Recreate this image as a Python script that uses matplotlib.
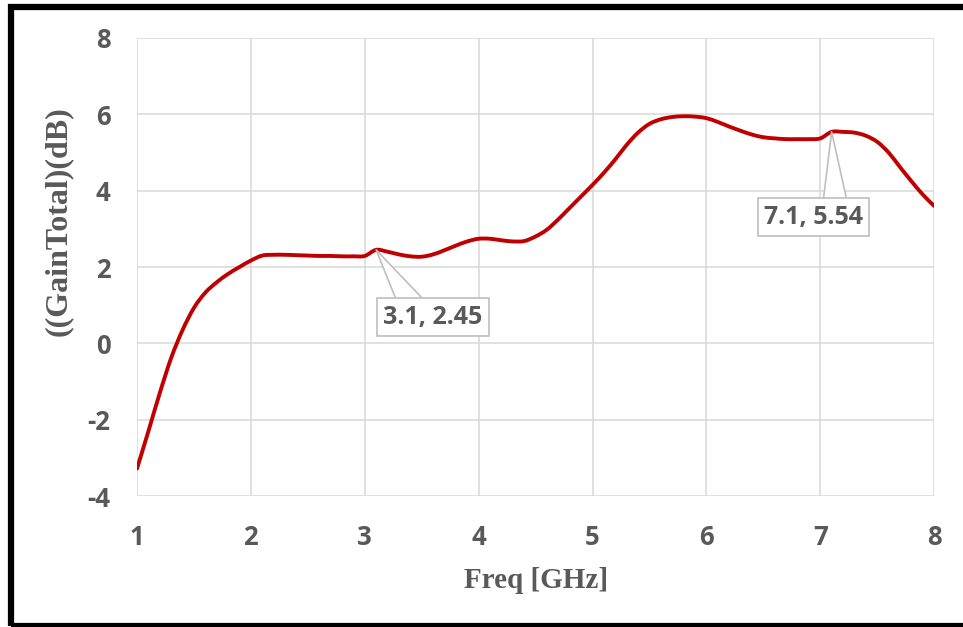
import matplotlib
matplotlib.use("Agg")
import matplotlib.pyplot as plt
import numpy as np
from matplotlib.patches import Rectangle, PathPatch
from matplotlib.path import Path

plt.rcParams["axes.unicode_minus"] = False

# frequency sweep (GHz) and total gain (dB)
freq = [1.0, 1.1, 1.2, 1.3, 1.4, 1.5, 1.6, 1.7, 1.8, 1.9,
        2.0, 2.1, 2.2, 2.3, 2.4, 2.5, 2.6, 2.7, 2.8, 2.9,
        3.0, 3.1, 3.2, 3.3, 3.4, 3.5, 3.6, 3.7, 3.8, 3.9,
        4.0, 4.1, 4.2, 4.3, 4.4, 4.5, 4.6, 4.7, 4.8, 4.9,
        5.0, 5.1, 5.2, 5.3, 5.4, 5.5, 5.6, 5.7, 5.8, 5.9,
        6.0, 6.1, 6.2, 6.3, 6.4, 6.5, 6.6, 6.7, 6.8, 6.9,
        7.0, 7.1, 7.2, 7.3, 7.4, 7.5, 7.6, 7.7, 7.8, 7.9, 8.0]
gain = [-3.28, -2.30, -1.30, -0.38, 0.35, 0.93, 1.33, 1.60, 1.82, 2.00,
        2.17, 2.30, 2.32, 2.32, 2.31, 2.30, 2.29, 2.29, 2.28, 2.28,
        2.29, 2.45, 2.40, 2.33, 2.28, 2.27, 2.33, 2.44, 2.56, 2.67,
        2.74, 2.74, 2.70, 2.67, 2.68, 2.80, 2.98, 3.25, 3.55, 3.85,
        4.15, 4.47, 4.82, 5.20, 5.52, 5.75, 5.87, 5.93, 5.95, 5.94,
        5.90, 5.80, 5.68, 5.57, 5.47, 5.40, 5.37, 5.35, 5.35, 5.35,
        5.37, 5.54, 5.54, 5.52, 5.44, 5.28, 5.00, 4.62, 4.25, 3.90, 3.60]

# labelled points: (freq, gain) and where the callout box sits
marks = [(3.1, 2.45), (7.1, 5.54)]
mark_boxes = [(3.60, 0.69), (6.94, 3.31)]
mark_relpos = [(0.28, 1.0), (0.72, 1.0)]

xticks = [1, 2, 3, 4, 5, 6, 7, 8]
yticks = [-4, -2, 0, 2, 4, 6, 8]

grey = "#595959"
sans = ["Open Sans", "DejaVu Sans"]


def smooth_path(xs, ys):
    # Catmull-Rom through the samples, written as cubic Bezier segments
    p = np.column_stack([xs, ys])
    ext = np.vstack([p[0], p, p[-1]])
    verts = [p[0]]
    codes = [Path.MOVETO]
    for i in range(len(p) - 1):
        p0, p1, p2, p3 = ext[i], ext[i + 1], ext[i + 2], ext[i + 3]
        verts += [p1 + (p2 - p0) / 6, p2 - (p3 - p1) / 6, p2]
        codes += [Path.CURVE4] * 3
    return Path(verts, codes)


fig = plt.figure(figsize=(9.63, 6.27), dpi=100)
ax = fig.add_axes([0.1423, 0.2089, 0.8277, 0.7305])

ax.add_patch(PathPatch(smooth_path(freq, gain), fill=False, ec="#c00000",
                       lw=2.8, capstyle="round", joinstyle="round", zorder=3))

ax.set_xlim(1, 8)
ax.set_ylim(-4, 8)
ax.set_xticks(xticks)
ax.set_yticks(yticks)
ax.grid(True, color="#d9d9d9", lw=1.1)
ax.set_axisbelow(True)
for s in ax.spines.values():
    s.set_visible(False)
ax.tick_params(length=0, colors=grey, pad=19)
ax.tick_params(axis="x", pad=20)
for lab in ax.get_xticklabels() + ax.get_yticklabels():
    lab.set_fontfamily(sans)
    lab.set_fontweight("bold")
    lab.set_fontsize(18.5)

ax.set_xlabel("Freq [GHz]", family="Liberation Serif", fontweight="bold",
              fontsize=21, color=grey)
ax.xaxis.set_label_coords(0.5, -0.155)
ax.set_ylabel("((GainTotal)(dB)", family="Liberation Serif", fontweight="bold",
              fontsize=23, color=grey)
ax.yaxis.set_label_coords(-0.08, 0.6)

for (mx, my), (bx, by), rp in zip(marks, mark_boxes, mark_relpos):
    ax.annotate(f"{mx}, {my}", xy=(mx, my), xytext=(bx, by),
                ha="center", va="center", fontsize=18, fontweight="bold",
                family=sans, color=grey, zorder=5,
                bbox=dict(boxstyle="square,pad=0.25", fc="white", ec="#bfbfbf", lw=1.2),
                arrowprops=dict(arrowstyle="wedge,tail_width=1.0,shrink_factor=0.5",
                                fc="white", ec="#bfbfbf", lw=1.2, relpos=rp,
                                patchA=None, shrinkA=0, shrinkB=0))

# black frame round the figure
fig.patches.append(Rectangle((11 / 963, 1 / 627), 1.2, 619 / 627,
                             transform=fig.transFigure, fill=False,
                             ec="black", lw=4.5, zorder=10))

fig.savefig("out.png", dpi=100)
